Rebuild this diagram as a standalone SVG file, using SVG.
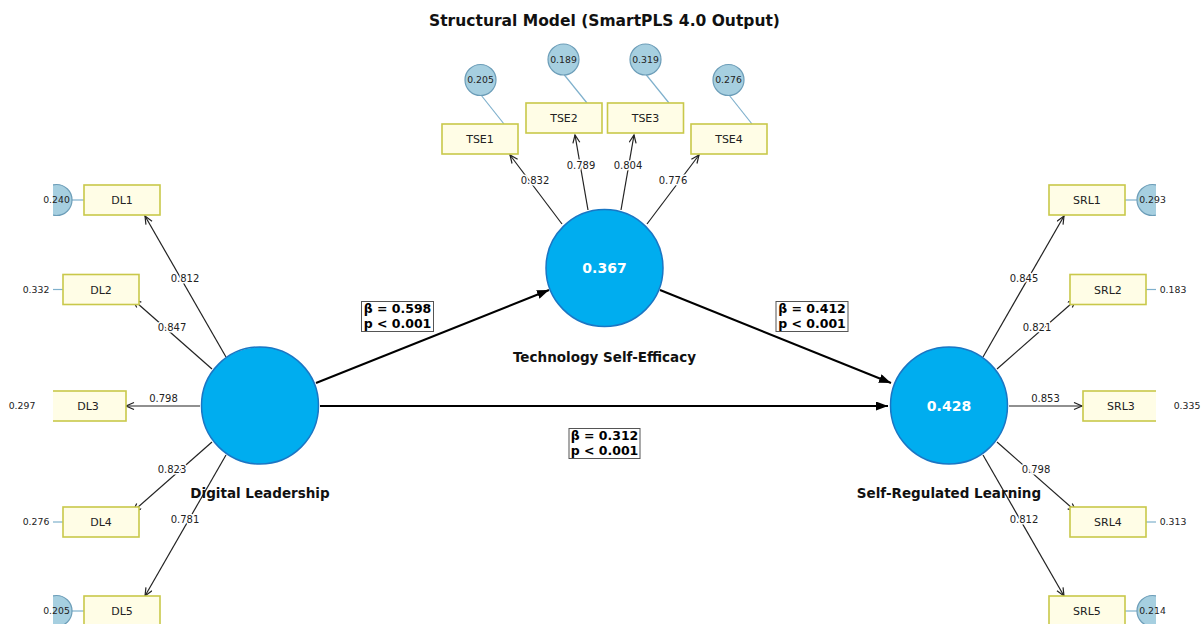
<svg xmlns="http://www.w3.org/2000/svg" width="1203" height="624" viewBox="0 0 1203 624">
<style>
text{font-family:"DejaVu Sans","Liberation Sans",sans-serif;fill:#222;}
.title{font-size:15.5px;font-weight:bold;fill:#111;}
.lv{fill:#00adef;stroke:#1a76c4;stroke-width:1.5;}
.lvval{font-size:14px;font-weight:bold;fill:#fff;}
.lvname{font-size:13.5px;font-weight:bold;fill:#111;}
.ind{fill:#fffde6;stroke:#c9c84a;stroke-width:1.6;}
.indt{font-size:11px;}
.err{fill:#a6cfe0;stroke:#6c9db8;stroke-width:1.2;}
.errl{stroke:#7fb0cc;stroke-width:1.2;fill:none;}
.errt{font-size:9.3px;}
.load{stroke:#222;stroke-width:1.2;fill:none;marker-end:url(#ah);}
.loadt{font-size:10px;stroke:#fff;stroke-width:3;paint-order:stroke;stroke-linejoin:round;}
.path{stroke:#000;stroke-width:2;fill:none;marker-end:url(#sh);}
.beta{fill:#fff;stroke:#555;stroke-width:1;}
.betat{font-size:12.5px;font-weight:bold;fill:#000;}
</style>
<defs>
<clipPath id="ax"><rect x="53" y="0" width="1103" height="624"/></clipPath>
<marker id="ah" markerUnits="userSpaceOnUse" markerWidth="12" markerHeight="10" refX="9" refY="4" orient="auto"><path d="M1,0.5 L9,4 L1,7.5" fill="none" stroke="#222" stroke-width="1.2"/></marker>
<marker id="sh" markerUnits="userSpaceOnUse" markerWidth="14" markerHeight="10" refX="12" refY="4.5" orient="auto"><path d="M0,0 L12,4.5 L0,9 Z" fill="#000"/></marker>
</defs>
<rect width="1203" height="624" fill="#fff"/>
<text class="title" x="604.5" y="26" text-anchor="middle">Structural Model (SmartPLS 4.0 Output)</text>

<g id="errors" clip-path="url(#ax)">
<line class="errl" x1="56.5" y1="200" x2="84" y2="200"/>
<line class="errl" x1="36" y1="289.5" x2="63" y2="289.5"/>
<line class="errl" x1="22" y1="406" x2="50" y2="406"/>
<line class="errl" x1="36" y1="522" x2="63" y2="522"/>
<line class="errl" x1="56.5" y1="611" x2="84" y2="611"/>
<line class="errl" x1="481" y1="95" x2="504" y2="124"/>
<line class="errl" x1="564" y1="74.5" x2="587" y2="103"/>
<line class="errl" x1="646" y1="74.5" x2="669" y2="103"/>
<line class="errl" x1="729" y1="95" x2="752" y2="124"/>
<line class="errl" x1="1125" y1="200" x2="1152.5" y2="200"/>
<line class="errl" x1="1146" y1="289.5" x2="1173" y2="289.5"/>
<line class="errl" x1="1159" y1="406" x2="1187" y2="406"/>
<line class="errl" x1="1146" y1="522" x2="1173" y2="522"/>
<line class="errl" x1="1125" y1="611" x2="1152.5" y2="611"/>
<circle class="err" cx="56.5" cy="200" r="15.5"/>
<circle class="err" cx="36" cy="289.5" r="15.5"/>
<circle class="err" cx="22" cy="406" r="15.5"/>
<circle class="err" cx="36" cy="522" r="15.5"/>
<circle class="err" cx="56.5" cy="611" r="15.5"/>
<circle class="err" cx="480.5" cy="80" r="15.5"/>
<circle class="err" cx="563.5" cy="59.5" r="15.5"/>
<circle class="err" cx="645.5" cy="59.5" r="15.5"/>
<circle class="err" cx="728.5" cy="80" r="15.5"/>
<circle class="err" cx="1152.5" cy="200" r="15.5"/>
<circle class="err" cx="1173" cy="289.5" r="15.5"/>
<circle class="err" cx="1187" cy="406" r="15.5"/>
<circle class="err" cx="1173" cy="522" r="15.5"/>
<circle class="err" cx="1152.5" cy="611" r="15.5"/>
</g>

<g id="connectors">
<g clip-path="url(#ax)">
<line class="load" x1="226" y1="357" x2="145" y2="216"/>
<line class="load" x1="212" y1="369" x2="133" y2="299.5"/>
<line class="load" x1="200" y1="406" x2="126" y2="406"/>
<line class="load" x1="212" y1="442" x2="133" y2="511.5"/>
<line class="load" x1="226" y1="455" x2="145" y2="596"/>
<line class="load" x1="562" y1="224" x2="510" y2="155"/>
<line class="load" x1="588" y1="210" x2="575" y2="135"/>
<line class="load" x1="621" y1="210" x2="634" y2="135"/>
<line class="load" x1="647" y1="224" x2="699" y2="155"/>
<line class="load" x1="983" y1="357" x2="1064" y2="216"/>
<line class="load" x1="997" y1="369" x2="1076" y2="299.5"/>
<line class="load" x1="1009" y1="406" x2="1082" y2="406"/>
<line class="load" x1="997" y1="442" x2="1076" y2="511.5"/>
<line class="load" x1="983" y1="455" x2="1064" y2="596"/>
<line class="path" x1="316" y1="383" x2="549" y2="290"/>
<line class="path" x1="660" y1="290" x2="891" y2="383"/>
<line class="path" x1="320" y1="406" x2="888" y2="406"/>
</g>
<text class="loadt" x="185" y="281.5" text-anchor="middle">0.812</text>
<text class="loadt" x="172" y="330.5" text-anchor="middle">0.847</text>
<text class="loadt" x="163.5" y="401.5" text-anchor="middle">0.798</text>
<text class="loadt" x="172" y="472.5" text-anchor="middle">0.823</text>
<text class="loadt" x="185" y="522.5" text-anchor="middle">0.781</text>
<text class="loadt" x="535" y="183.5" text-anchor="middle">0.832</text>
<text class="loadt" x="581" y="168.5" text-anchor="middle">0.789</text>
<text class="loadt" x="628" y="168.5" text-anchor="middle">0.804</text>
<text class="loadt" x="673" y="183.5" text-anchor="middle">0.776</text>
<text class="loadt" x="1024" y="281.5" text-anchor="middle">0.845</text>
<text class="loadt" x="1037" y="330.5" text-anchor="middle">0.821</text>
<text class="loadt" x="1045.5" y="401.5" text-anchor="middle">0.853</text>
<text class="loadt" x="1036" y="472.5" text-anchor="middle">0.798</text>
<text class="loadt" x="1024" y="522.5" text-anchor="middle">0.812</text>
</g>

<g id="DL1"><rect class="ind" x="84" y="185" width="76" height="30" clip-path="url(#ax)"/><text class="indt" x="122" y="204" text-anchor="middle">DL1</text><text class="errt" x="56.5" y="203.3" text-anchor="middle">0.240</text></g>
<g id="DL2"><rect class="ind" x="63" y="274.5" width="76" height="30" clip-path="url(#ax)"/><text class="indt" x="101" y="293.5" text-anchor="middle">DL2</text><text class="errt" x="36" y="292.8" text-anchor="middle">0.332</text></g>
<g id="DL3"><rect class="ind" x="50" y="391" width="76" height="30" clip-path="url(#ax)"/><text class="indt" x="88" y="410" text-anchor="middle">DL3</text><text class="errt" x="22" y="409.3" text-anchor="middle">0.297</text></g>
<g id="DL4"><rect class="ind" x="63" y="507" width="76" height="30" clip-path="url(#ax)"/><text class="indt" x="101" y="526" text-anchor="middle">DL4</text><text class="errt" x="36" y="525.3" text-anchor="middle">0.276</text></g>
<g id="DL5"><rect class="ind" x="84" y="596" width="76" height="30" clip-path="url(#ax)"/><text class="indt" x="122" y="615" text-anchor="middle">DL5</text><text class="errt" x="56.5" y="614.3" text-anchor="middle">0.205</text></g>

<g id="TSE1"><rect class="ind" x="442" y="124" width="76" height="30"/><text class="indt" x="480" y="143" text-anchor="middle">TSE1</text><text class="errt" x="480.5" y="83.3" text-anchor="middle">0.205</text></g>
<g id="TSE2"><rect class="ind" x="526" y="103" width="76" height="30"/><text class="indt" x="564" y="122" text-anchor="middle">TSE2</text><text class="errt" x="563.5" y="62.8" text-anchor="middle">0.189</text></g>
<g id="TSE3"><rect class="ind" x="607.5" y="103" width="76" height="30"/><text class="indt" x="645.5" y="122" text-anchor="middle">TSE3</text><text class="errt" x="645.5" y="62.8" text-anchor="middle">0.319</text></g>
<g id="TSE4"><rect class="ind" x="691" y="124" width="76" height="30"/><text class="indt" x="729" y="143" text-anchor="middle">TSE4</text><text class="errt" x="728.5" y="83.3" text-anchor="middle">0.276</text></g>

<g id="SRL1"><rect class="ind" x="1049" y="185" width="76" height="30" clip-path="url(#ax)"/><text class="indt" x="1087" y="204" text-anchor="middle">SRL1</text><text class="errt" x="1152.5" y="203.3" text-anchor="middle">0.293</text></g>
<g id="SRL2"><rect class="ind" x="1070" y="274.5" width="76" height="30" clip-path="url(#ax)"/><text class="indt" x="1108" y="293.5" text-anchor="middle">SRL2</text><text class="errt" x="1173" y="292.8" text-anchor="middle">0.183</text></g>
<g id="SRL3"><rect class="ind" x="1083" y="391" width="76" height="30" clip-path="url(#ax)"/><text class="indt" x="1121" y="410" text-anchor="middle">SRL3</text><text class="errt" x="1187" y="409.3" text-anchor="middle">0.335</text></g>
<g id="SRL4"><rect class="ind" x="1070" y="507" width="76" height="30" clip-path="url(#ax)"/><text class="indt" x="1108" y="526" text-anchor="middle">SRL4</text><text class="errt" x="1173" y="525.3" text-anchor="middle">0.313</text></g>
<g id="SRL5"><rect class="ind" x="1049" y="596" width="76" height="30" clip-path="url(#ax)"/><text class="indt" x="1087" y="615" text-anchor="middle">SRL5</text><text class="errt" x="1152.5" y="614.3" text-anchor="middle">0.214</text></g>

<g id="DL"><circle class="lv" cx="260" cy="405.5" r="58.5"/><text class="lvname" x="260" y="498" text-anchor="middle">Digital Leadership</text></g>
<g id="TSE"><circle class="lv" cx="604.5" cy="268" r="58.5"/><text class="lvval" x="604.5" y="273" text-anchor="middle">0.367</text><text class="lvname" x="604.5" y="362" text-anchor="middle">Technology Self-Efficacy</text></g>
<g id="SRL"><circle class="lv" cx="949" cy="405.5" r="58.5"/><text class="lvval" x="949" y="410.5" text-anchor="middle">0.428</text><text class="lvname" x="949" y="498" text-anchor="middle">Self-Regulated Learning</text></g>

<g id="path-labels">
<rect class="beta" x="361.5" y="301.5" width="72" height="30"/>
<text class="betat" x="397.5" y="312.8" text-anchor="middle">β = 0.598</text>
<text class="betat" x="397.5" y="327.8" text-anchor="middle">p &lt; 0.001</text>
<rect class="beta" x="569" y="428.5" width="71" height="30"/>
<text class="betat" x="604.5" y="439.8" text-anchor="middle">β = 0.312</text>
<text class="betat" x="604.5" y="454.8" text-anchor="middle">p &lt; 0.001</text>
<rect class="beta" x="776" y="301.5" width="72" height="30"/>
<text class="betat" x="812" y="312.8" text-anchor="middle">β = 0.412</text>
<text class="betat" x="812" y="327.8" text-anchor="middle">p &lt; 0.001</text>
</g>
</svg>
